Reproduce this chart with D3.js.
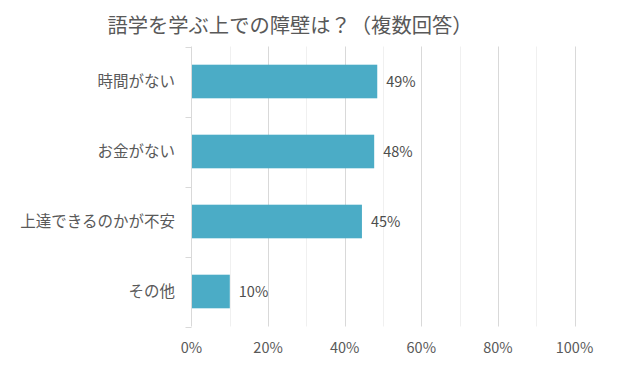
<!DOCTYPE html>
<html><head><meta charset="utf-8">
<script src="https://cdn.jsdelivr.net/npm/d3@7"></script>
<style>body{margin:0;background:#fff;} svg{display:block;}</style>
</head><body>
<script>
const title = "語学を学ぶ上での障壁は？（複数回答）";
const categories = ["時間がない", "お金がない", "上達できるのかが不安", "その他"];
const values = [48.5, 47.7, 44.5, 10.0];
const valueLabels = ["49%", "48%", "45%", "10%"];
const majorTicks = [0, 20, 40, 60, 80, 100];
const minorTicks = [10, 30, 50, 70, 90];

const W = 622, H = 379;
const m = {left: 191.5, right: 47.5, top: 46.5, bottom: 52.5};
const font = "'Noto Sans CJK JP', 'Noto Sans', sans-serif";
const textColor = "#595959";

const svg = d3.select("body").append("svg").attr("width", W).attr("height", H);

const x = d3.scaleLinear().domain([0, 100]).range([m.left, W - m.right]);
const y = d3.scaleBand().domain(categories).range([m.top, H - m.bottom]).paddingInner(0.52).paddingOuter(0.26);
const band = d3.scaleBand().domain(categories).range([m.top, H - m.bottom]);

// minor gridlines
svg.append("g").selectAll("line").data(minorTicks).join("line")
  .attr("x1", d => Math.round(x(d)) + 0.5).attr("x2", d => Math.round(x(d)) + 0.5)
  .attr("y1", m.top).attr("y2", H - m.bottom)
  .attr("stroke", "#f0f0f0").attr("stroke-width", 1);
// major gridlines
svg.append("g").selectAll("line").data(majorTicks.slice(1)).join("line")
  .attr("x1", d => Math.round(x(d)) + 0.5).attr("x2", d => Math.round(x(d)) + 0.5)
  .attr("y1", m.top).attr("y2", H - m.bottom)
  .attr("stroke", "#d9d9d9").attr("stroke-width", 1);

// bars
svg.append("g").selectAll("rect").data(categories).join("rect")
  .attr("x", x(0)).attr("y", (d) => y(d))
  .attr("width", (d, i) => x(values[i]) - x(0))
  .attr("height", y.bandwidth())
  .attr("fill", "#4bacc6");

// y axis
const yAxis = svg.append("g").attr("transform", `translate(${x(0)},0)`);
yAxis.append("line").attr("x1", 0).attr("x2", 0).attr("y1", m.top).attr("y2", H - m.bottom)
  .attr("stroke", "#d9d9d9");
const bounds = categories.map(c => band(c)).concat([H - m.bottom]);
yAxis.selectAll("line.tk").data(bounds).join("line").attr("class", "tk")
  .attr("x1", -6).attr("x2", 0).attr("y1", d => Math.round(d) + 0.5).attr("y2", d => Math.round(d) + 0.5)
  .attr("stroke", "#d9d9d9");

// category labels
svg.append("g").selectAll("text").data(categories).join("text")
  .attr("x", 175).attr("y", d => band(d) + band.bandwidth() / 2)
  .attr("dy", "0.35em").attr("text-anchor", "end")
  .attr("font-family", font).attr("font-size", 15.5).attr("fill", textColor)
  .text(d => d);

// value labels
svg.append("g").selectAll("text").data(categories).join("text")
  .attr("x", (d, i) => x(values[i]) + 9).attr("y", d => band(d) + band.bandwidth() / 2)
  .attr("dy", "0.38em").attr("text-anchor", "start")
  .attr("font-family", font).attr("font-size", 14.5).attr("fill", "#4d4d4d")
  .text((d, i) => valueLabels[i]);

// x tick labels
svg.append("g").selectAll("text").data(majorTicks).join("text")
  .attr("x", d => x(d)).attr("y", 353)
  .attr("text-anchor", "middle")
  .attr("font-family", font).attr("font-size", 14.5).attr("fill", textColor)
  .text(d => d + "%");

// title
svg.append("text").attr("x", 290).attr("y", 33).attr("text-anchor", "middle")
  .attr("font-family", font).attr("font-size", 20.3).attr("fill", textColor)
  .text(title);
</script>
</body></html>
